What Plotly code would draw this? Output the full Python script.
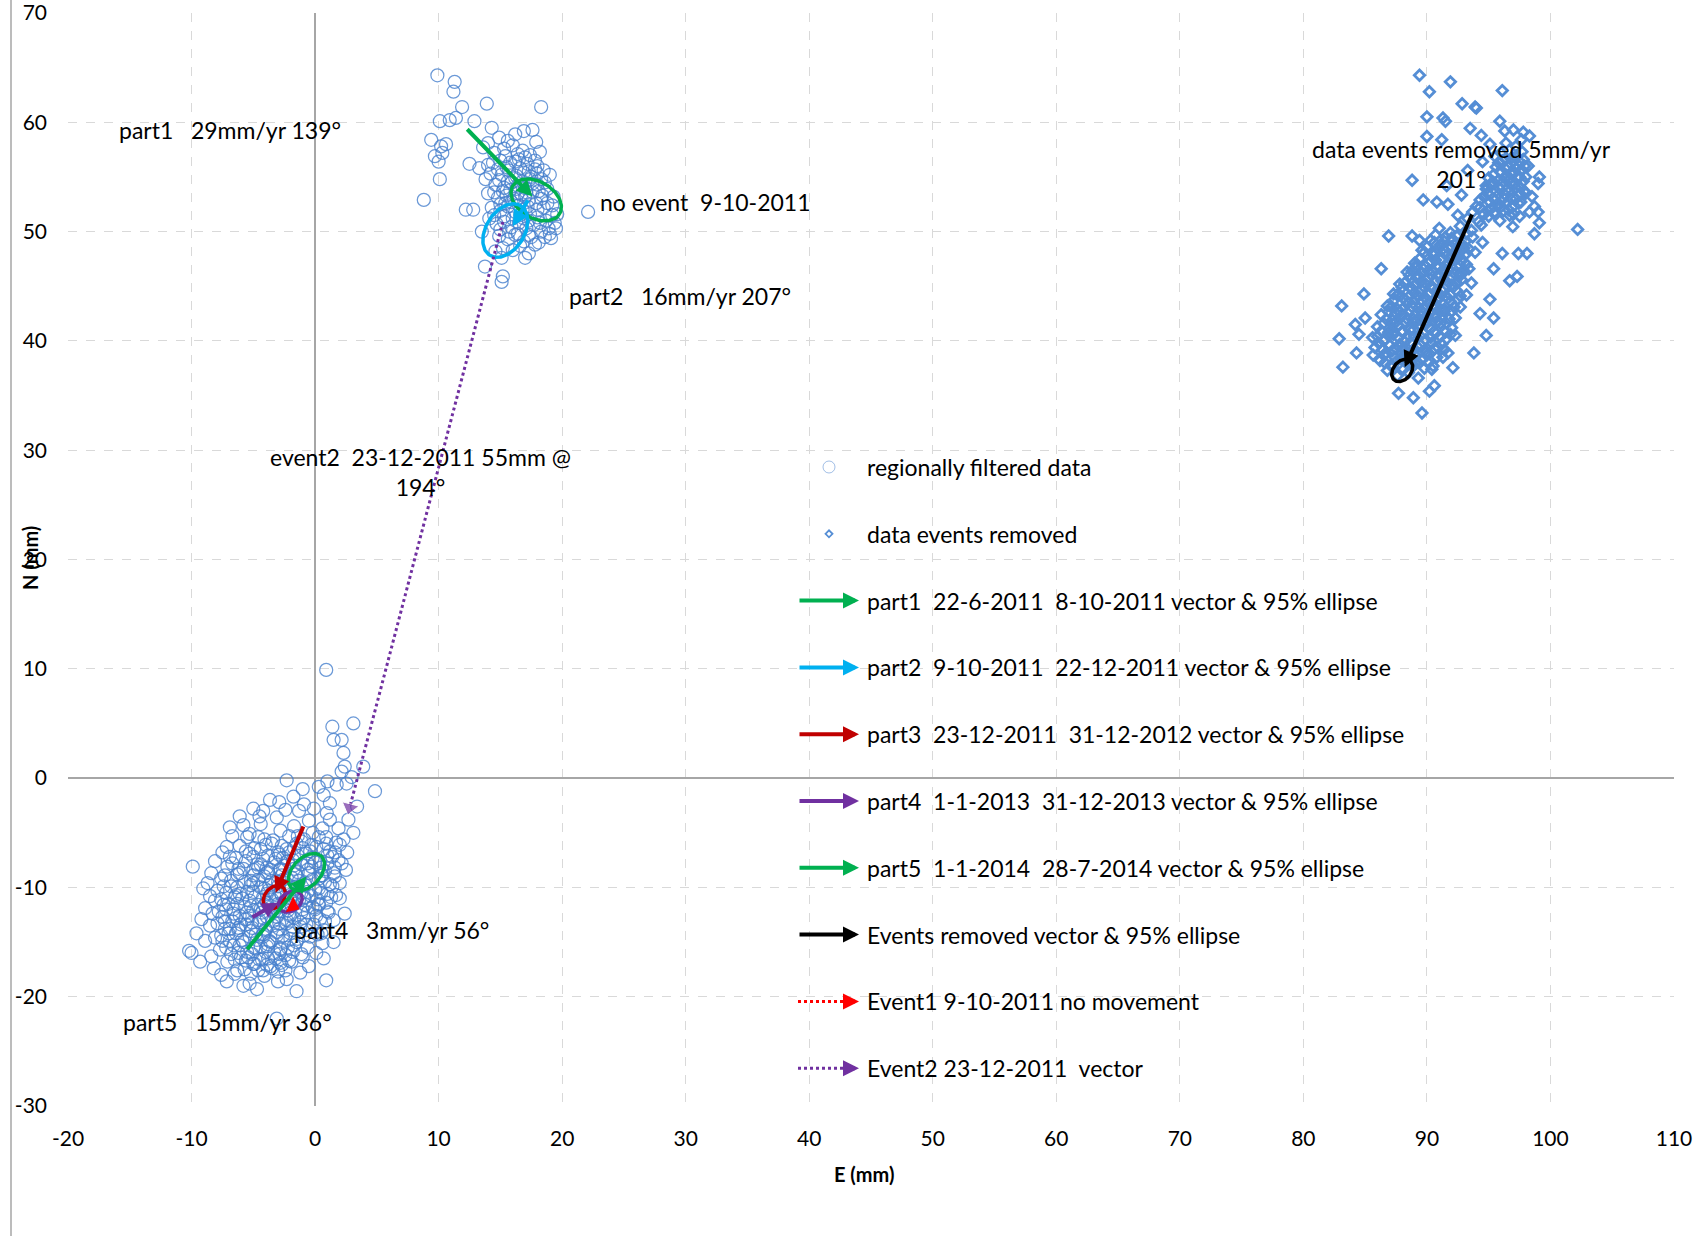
import numpy as np
import plotly.graph_objects as go

# ---------------- data ----------------
filtered_top = [
    (9.9,64.3),(11.3,63.7),(11.2,62.8),(13.9,61.7),(18.3,61.4),(11.9,61.4),(10.1,60.1),(10.9,60.2),
    (11.4,60.4),(12.9,60.1),(9.4,58.4),(10.2,57.8),(9.7,56.9),(10.0,56.4),(10.1,54.8),(8.8,52.9),
    (12.2,52.0),(12.8,52.0),(22.1,51.8),(13.75,46.8),(15.2,45.9),(15.1,45.4),(17.3,48.0),(19.1,49.4),
    (12.5,56.2),(13.3,55.8),(14.0,56.1),(14.3,59.5),(14.9,58.6),(16.2,58.9),(16.9,59.2),(17.6,59.3),
    (17.9,58.2),(10.6,58.0),(10.3,57.2),
    (14.5,57.2),(15.3,57.6),(16.0,57.9),(16.8,57.4),(17.4,57.0),(18.2,57.3),(15.0,56.5),(15.8,56.3),
    (16.5,56.6),(17.2,56.2),(18.0,56.0),(14.2,55.3),(15.1,55.2),(15.7,55.6),(16.3,55.1),(16.9,55.4),
    (17.5,55.0),(18.3,54.8),(19.0,55.2),(14.6,54.3),(15.3,54.0),(15.9,54.5),(16.4,54.2),(17.0,54.0),
    (17.6,54.4),(18.1,53.7),(18.8,53.9),(19.3,53.2),(14.0,53.5),(14.8,53.1),(15.5,53.3),(16.1,53.0),
    (16.7,53.4),(17.3,52.9),(17.9,52.6),(18.5,52.2),(19.2,52.4),(14.3,52.2),(15.0,51.9),(15.6,52.3),
    (16.2,51.8),(16.8,52.0),(17.4,51.6),(18.0,51.3),(18.7,51.0),(19.4,50.8),(14.1,51.2),(14.7,50.7),
    (15.3,50.9),(15.9,50.4),(16.5,50.8),(17.1,50.3),(17.7,50.6),(18.3,50.0),(19.0,49.8),(19.5,50.3),
    (14.9,49.6),(15.6,49.3),(16.2,49.7),(16.9,49.1),(17.5,49.5),(18.1,49.0),(15.2,48.5),(16.0,48.3),
    (16.6,48.7),(17.8,48.8),(13.8,54.8),(14.4,56.3),(15.6,58.3),(16.4,57.1),(17.8,55.7),(18.5,55.6),
    (13.6,57.7),(14.0,58.1),(17.1,53.6),(16.3,53.9),(15.4,52.6),(16.9,51.2),(18.4,53.3),(19.6,51.6),
    (15.1,47.6),(14.6,48.2),(17.0,47.6),(13.5,50.0),
    (15.4,56.9),(16.2,56.4),(17.0,56.8),(17.8,56.5),(14.8,55.7),(15.5,55.9),(16.6,55.8),(17.3,55.5),
    (18.0,55.3),(14.9,54.7),(15.6,54.6),(16.2,54.9),(16.8,54.6),(17.4,54.8),(18.0,54.3),(18.6,54.5),
    (14.5,53.6),(15.2,53.7),(15.8,53.8),(16.4,53.5),(17.0,53.2),(17.6,53.6),(18.3,53.0),(15.0,52.5),
    (15.9,52.7),(16.5,52.4),(17.2,52.3),(18.0,52.0),(18.8,52.6),(14.5,51.5),(15.3,51.4),(16.0,51.2),
    (16.6,51.5),(17.3,51.0),(18.2,50.8),(15.0,50.2),(15.7,50.0),(16.4,49.8),(17.3,49.7),(18.6,49.5),
    (19.2,51.5),(18.9,50.3),
]

filtered_bottom = [
    (0.9,9.9),(1.4,4.7),(3.1,5.0),(1.5,3.5),(2.15,3.5),(2.3,2.3),(2.4,1.05),(2.15,0.6),(1.75,-0.6),
    (2.55,-0.5),(2.95,0.1),(3.9,1.05),(4.85,-1.2),(-2.3,-0.2),(2.7,-3.8),(3.1,-5.0),(3.4,-2.6),
    (-9.9,-8.1),(-9.05,-10.1),(-8.5,-10.8),(-9.6,-14.2),(-10.0,-16.0),(-7.15,-18.6),(-5.3,-18.8),
    (-3.0,-18.6),(-1.5,-19.5),(0.9,-18.5),(0.7,-16.5),(-3.1,-22.0),(2.0,-11.0),(2.4,-12.4),(1.5,-13.0),
    (0.7,-13.9),(2.15,-7.8),(1.6,-9.0),(-6.1,-3.5),(-4.5,-3.5),(-5.5,-5.4),(-7.15,-6.3),(-6.9,-7.2),
    (-5.0,-2.8),(-3.65,-2.0),(-1.75,-1.7),(0.7,-1.55),(1.2,-2.3),(0.95,-3.2),(-10.2,-15.8),(-9.3,-16.8),
    (-8.2,-17.4),(-6.5,-17.9),(-4.2,-17.6),(-0.5,-17.2),(1.5,-15.0),
    (-4.4,-4.2),(-3.1,-3.6),(-1.7,-4.4),(-0.5,-3.9),(0.6,-4.6),(-2.4,-2.9),(-5.3,-5.1),(-4.1,-5.6),
    (-2.8,-4.8),(-1.4,-5.3),(-0.2,-5.0),(0.9,-5.4),(1.7,-5.9),(-6.1,-6.2),(-4.9,-6.4),(-3.5,-6.0),
    (-2.3,-6.5),(-1.1,-5.8),(0.1,-6.3),(1.2,-6.7),(2.0,-6.1),(-6.4,-7.3),(-5.3,-6.9),(-4.2,-7.4),
    (-2.9,-7.0),(-1.8,-7.5),(-0.7,-6.9),(0.4,-7.6),(1.4,-7.2),(-7.1,-8.1),(-5.8,-8.3),(-4.7,-7.9),
    (-3.6,-8.4),(-2.5,-8.0),(-1.4,-8.6),(-0.3,-8.1),(0.8,-8.5),(1.6,-8.2),(-7.6,-9.2),(-6.3,-8.8),
    (-5.2,-9.4),(-4.1,-9.0),(-3.0,-9.5),(-1.9,-9.1),(-0.8,-9.6),(0.3,-9.2),(1.2,-9.7),(-7.9,-10.3),
    (-6.8,-9.9),(-5.5,-10.4),(-4.4,-10.0),(-3.3,-10.6),(-2.2,-10.1),(-1.1,-10.5),(0.0,-10.2),(1.0,-10.6),
    (-8.1,-11.2),(-7.0,-11.5),(-5.9,-11.0),(-4.6,-11.6),(-3.5,-11.1),(-2.4,-11.7),(-1.3,-11.2),(-0.2,-11.8),
    (0.9,-11.4),(-8.3,-12.4),(-7.2,-12.0),(-6.1,-12.6),(-5.0,-12.1),(-3.9,-12.7),(-2.8,-12.2),(-1.7,-12.8),
    (-0.6,-12.3),(0.4,-12.9),(-8.5,-13.5),(-7.3,-13.1),(-6.2,-13.7),(-5.1,-13.2),(-4.0,-13.8),(-2.9,-13.3),
    (-1.8,-13.9),(-0.7,-13.4),(-8.1,-14.6),(-7.0,-14.2),(-5.9,-14.8),(-4.8,-14.3),(-3.7,-14.9),(-2.6,-14.4),
    (-1.5,-15.0),(-0.4,-14.5),(-7.7,-15.7),(-6.6,-15.3),(-5.5,-15.9),(-4.4,-15.4),(-3.3,-16.0),(-2.2,-15.5),
    (-1.1,-16.1),(-7.1,-16.8),(-6.0,-16.4),(-4.9,-17.0),(-3.8,-16.5),(-2.7,-17.1),(-6.3,-17.6),(-5.2,-17.9),
    (-4.1,-18.1),(-3.0,-17.7),
    (-3.7,-9.8),(-2.6,-9.3),(-1.5,-9.9),(-4.9,-10.9),(-3.9,-11.4),(-2.0,-11.0),(-0.9,-10.9),(-4.3,-12.3),
    (-3.2,-11.9),(-2.1,-12.4),(-1.0,-12.0),(-5.6,-12.9),(-4.5,-13.0),(-3.4,-13.5),(-2.3,-13.0),(-1.2,-13.6),
    (-5.2,-14.0),(-4.2,-14.5),(-3.1,-14.1),(-2.0,-14.7),(-4.8,-15.6),(-3.8,-15.2),(-2.8,-15.7),(-4.5,-16.6),
    (-3.6,-17.2),(-5.7,-11.8),(-6.6,-12.4),(-6.4,-10.7),(-5.0,-9.6),(-3.9,-8.7),(-2.8,-8.3),(-1.7,-8.0),
    (-0.6,-7.8),(-3.2,-7.4),(-2.1,-6.8),(-1.0,-6.4),(-4.6,-8.2),(0.5,-8.9),(-0.3,-10.8),(0.3,-11.6),
    (-1.6,-11.5),(-2.7,-10.7),(-3.8,-10.3),(-6.0,-13.4),(-6.9,-13.8),(-7.5,-14.9),(-6.8,-16.1),(-5.6,-16.7),
    (-2.4,-16.2),(-1.9,-16.8),
    (-8.7,-9.6),(-8.9,-11.9),(-9.2,-12.9),(-8.9,-14.9),(-8.4,-16.3),(-7.6,-18.0),(-5.8,-19.0),(-4.7,-19.3),
    (-2.3,-18.4),(-1.2,-17.8),(0.1,-16.0),(0.6,-15.1),(0.5,-14.2),(1.1,-12.3),(1.7,-10.7),(2.0,-9.6),
    (2.5,-8.4),(2.6,-6.8),(2.3,-5.6),(1.9,-4.6),(1.2,-3.8),(-0.1,-2.8),(-1.3,-3.0),(-2.9,-2.2),(-4.2,-3.0),
    (-5.8,-4.3),(-6.7,-5.3),(-7.5,-6.8),(-8.1,-7.6),(-8.4,-8.7),(-6.9,-4.5),(-0.9,-2.4),(0.3,-0.8),
    (-1.0,-1.0),(1.0,-0.3),
    (-4.6,-5.4),(-3.4,-5.7),(-2.1,-5.3),(-0.9,-5.6),(0.3,-5.4),
    (-5.6,-6.7),(-4.4,-6.5),(-3.0,-6.8),(-1.7,-6.4),(-0.4,-6.7),(0.7,-6.5),(1.6,-6.8),
    (-6.7,-7.8),(-5.6,-7.6),(-4.4,-7.9),(-3.3,-7.7),(-2.2,-7.6),(-1.1,-7.9),(0.0,-7.7),(1.0,-7.8),(1.9,-7.5),
    (-7.3,-8.9),(-6.1,-8.7),(-5.0,-8.9),(-3.8,-8.6),(-2.7,-8.9),(-1.6,-8.8),(-0.5,-8.7),(0.6,-8.9),(1.5,-8.7),
    (-7.4,-9.9),(-6.3,-10.0),(-5.2,-9.8),(-4.1,-10.1),(-3.0,-9.9),(-1.9,-10.0),(-0.8,-9.8),(0.3,-10.1),(1.4,-9.9),
    (-7.6,-11.1),(-6.5,-10.9),(-5.3,-11.2),(-4.2,-10.9),(-3.1,-11.0),(-2.0,-11.2),(-0.9,-11.0),(0.2,-11.1),(1.3,-10.9),
    (-7.8,-12.2),(-6.6,-12.0),(-5.5,-12.3),(-4.4,-12.0),(-3.3,-12.2),(-2.2,-12.1),(-1.1,-12.3),(0.0,-12.0),(1.0,-12.2),
    (-7.9,-13.3),(-6.7,-13.1),(-5.6,-13.4),(-4.5,-13.2),(-3.4,-13.1),(-2.3,-13.3),(-1.2,-13.2),(-0.1,-13.4),(0.8,-13.1),
    (-7.6,-14.4),(-6.4,-14.2),(-5.3,-14.5),(-4.2,-14.3),(-3.1,-14.4),(-2.0,-14.2),(-0.9,-14.4),(0.2,-14.3),
    (-7.2,-15.5),(-6.1,-15.3),(-5.0,-15.5),(-3.9,-15.4),(-2.8,-15.6),(-1.7,-15.3),(-0.6,-15.5),
    (-6.5,-16.6),(-5.4,-16.4),(-4.3,-16.6),(-3.2,-16.5),(-2.1,-16.7),(-1.0,-16.4),
    (-5.7,-17.5),(-4.6,-17.6),(-3.5,-17.4),(-2.4,-17.6),
    (-4.0,-6.1),(-2.7,-6.2),(-1.5,-6.0),(-0.3,-6.1),(0.9,-6.0),
    (-5.0,-7.2),(-3.8,-7.1),(-2.6,-7.3),(-1.4,-7.1),(-0.2,-7.3),(1.0,-7.1),
    (-6.2,-8.3),(-5.0,-8.4),(-3.9,-8.2),(-2.8,-8.4),(-1.7,-8.3),(-0.6,-8.4),(0.5,-8.2),
    (-6.8,-9.4),(-5.7,-9.5),(-4.6,-9.3),(-3.5,-9.4),(-2.4,-9.6),(-1.3,-9.4),(-0.2,-9.3),(0.8,-9.5),
    (-7.2,-10.5),(-6.1,-10.6),(-5.0,-10.4),(-3.9,-10.6),(-2.8,-10.5),(-1.7,-10.6),(-0.6,-10.4),(0.5,-10.5),
    (-7.4,-11.6),(-6.3,-11.5),(-5.2,-11.7),(-4.1,-11.6),(-3.0,-11.5),(-1.9,-11.7),(-0.8,-11.6),(0.3,-11.5),
    (-7.5,-12.7),(-6.4,-12.8),(-5.3,-12.6),(-4.2,-12.8),(-3.1,-12.7),(-2.0,-12.6),(-0.9,-12.8),(0.1,-12.6),
    (-7.3,-13.8),(-6.2,-13.9),(-5.1,-13.7),(-4.0,-13.9),(-2.9,-13.8),(-1.8,-13.6),(-0.7,-13.9),
    (-6.9,-14.9),(-5.8,-15.0),(-4.7,-14.8),(-3.6,-15.0),(-2.5,-14.9),(-1.4,-14.7),
    (-6.2,-16.0),(-5.1,-16.1),(-4.0,-15.9),(-2.9,-16.1),(-1.8,-15.9),
    (-5.0,-17.0),(-3.9,-17.1),(-2.8,-16.9),
]

removed_pts = [
    (86.8,37.3),(87.6,36.8),(88.5,37.1),(89.3,36.6),(90.4,37.4),
    (86.2,38.2),(87.1,37.8),(87.9,38.4),(88.8,37.9),(89.6,38.3),(90.5,37.7),(91.3,38.5),
    (85.8,39.4),(86.7,38.9),(87.5,39.3),(88.3,38.8),(89.2,39.5),(90.0,39.0),(90.9,39.4),(91.7,38.9),
    (85.6,40.3),(86.5,40.0),(87.3,40.6),(88.2,39.9),(89.0,40.4),(89.9,40.1),(90.7,40.7),(91.6,40.2),(92.3,40.5),
    (86.0,41.3),(86.9,40.8),(87.7,41.4),(88.6,41.0),(89.4,41.5),(90.3,41.1),(91.1,41.6),(92.0,41.2),
    (86.3,42.4),(87.2,41.9),(88.0,42.3),(88.9,42.0),(89.7,42.6),(90.6,42.2),(91.4,42.7),(92.3,42.1),
    (86.8,43.2),(87.6,42.9),(88.5,43.5),(89.3,43.0),(90.2,43.4),(91.0,42.9),(91.9,43.6),(92.7,43.1),
    (87.3,44.3),(88.1,43.9),(89.0,44.4),(89.8,44.0),(90.7,44.5),(91.5,44.1),(92.4,44.6),(93.2,44.2),
    (87.8,45.2),(88.6,44.9),(89.5,45.4),(90.3,45.0),(91.2,45.5),(92.0,45.1),(92.8,45.6),
    (88.4,46.3),(89.2,45.8),(90.1,46.4),(90.9,46.0),(91.8,46.5),(92.6,46.1),(93.4,46.6),
    (89.0,47.1),(89.9,46.8),(90.7,47.4),(91.5,46.9),(92.4,47.5),(93.2,47.0),
    (89.6,48.3),(90.5,47.9),(91.3,48.4),(92.2,48.0),(93.0,48.5),(93.9,48.1),
    (90.3,49.2),(91.1,48.8),(92.0,49.4),(92.8,48.9),(93.7,49.5),(94.5,49.0),
    (91.0,50.3),(91.9,49.9),(92.7,50.5),(93.6,50.1),(94.4,50.6),
    (93.3,51.2),(94.2,50.9),(95.0,51.4),(95.9,51.0),(96.7,51.5),
    (94.0,52.3),(94.9,51.9),(95.7,52.5),(96.6,52.0),(97.4,52.6),
    (94.6,53.2),(95.5,52.9),(96.3,53.4),(97.2,53.0),(98.0,53.5),
    (95.1,54.3),(95.9,53.9),(96.8,54.4),(97.6,54.0),
    (95.4,55.2),(96.3,54.9),(97.1,55.4),(98.0,55.0),
    (95.8,56.3),(96.6,55.9),(97.5,56.4),(98.2,56.0),
    (96.0,57.2),(96.9,56.8),(97.7,57.3),(96.4,58.1),(97.2,57.8),
    (87.0,39.6),(88.0,40.9),(88.9,41.7),(89.6,43.7),(90.5,44.8),(91.4,46.2),(88.4,38.5),(89.9,41.8),
    (90.9,43.9),(87.5,42.5),(89.1,46.7),(92.0,48.6),
    (87.2,37.6),(88.1,37.4),(88.9,37.7),(89.8,37.5),
    (86.5,38.7),(87.4,38.5),(88.2,38.8),(89.1,38.6),(90.0,38.7),(90.8,38.5),
    (86.1,39.8),(87.0,39.6),(87.8,39.7),(88.7,39.9),(89.5,39.6),(90.4,39.8),(91.2,39.7),
    (86.3,40.9),(87.2,40.7),(88.0,40.8),(88.9,41.0),(89.7,40.7),(90.6,40.9),(91.5,40.8),
    (86.7,42.0),(87.5,41.8),(88.4,42.0),(89.2,41.9),(90.1,42.1),(90.9,41.8),(91.8,42.0),
    (87.1,43.1),(88.0,42.9),(88.8,43.1),(89.7,43.0),(90.5,43.2),(91.4,42.9),(92.2,43.1),
    (87.6,44.2),(88.5,44.0),(89.3,44.1),(90.2,44.3),(91.0,44.0),(91.9,44.2),(92.7,44.1),
    (88.2,45.3),(89.0,45.1),(89.9,45.2),(90.7,45.4),(91.6,45.1),(92.4,45.3),
    (88.8,46.4),(89.6,46.2),(90.5,46.3),(91.3,46.5),(92.2,46.2),(93.0,46.4),
    (89.4,47.5),(90.3,47.3),(91.1,47.4),(92.0,47.6),(92.8,47.3),
    (90.0,48.6),(90.9,48.4),(91.7,48.5),(92.6,48.7),(93.4,48.4),
    (90.7,49.7),(91.5,49.5),(92.4,49.6),(93.2,49.8),
    (93.7,51.8),(94.6,51.6),(95.4,51.7),(96.2,51.9),(97.0,51.6),
    (94.3,52.9),(95.1,52.7),(96.0,52.8),(96.8,53.0),(97.6,52.7),
    (94.8,53.9),(95.6,53.7),(96.4,53.8),(97.2,54.0),(97.9,53.7),
    (95.0,54.9),(95.8,54.7),(96.7,54.8),(97.5,55.0),
    (95.6,55.9),(96.4,55.7),(97.2,55.8),(97.9,56.0),
    (95.5,56.9),(96.4,56.7),(97.2,56.8),
    (86.6,38.0),(87.5,38.1),(88.4,37.9),(89.2,38.1),(90.1,38.0),
    (86.4,39.2),(87.2,39.1),(88.1,39.3),(88.9,39.2),(89.8,39.1),(90.6,39.3),(91.4,39.2),
    (86.0,40.4),(86.9,40.5),(87.7,40.3),(88.6,40.4),(89.4,40.5),(90.3,40.3),(91.1,40.4),(91.9,40.6),
    (86.5,41.6),(87.3,41.5),(88.2,41.7),(89.0,41.6),(89.9,41.5),(90.7,41.7),(91.6,41.6),
    (86.9,42.7),(87.8,42.6),(88.6,42.8),(89.5,42.7),(90.3,42.6),(91.2,42.8),(92.0,42.7),
    (87.4,43.8),(88.3,43.7),(89.1,43.9),(90.0,43.8),(90.8,43.7),(91.7,43.9),(92.5,43.8),
    (88.0,44.9),(88.8,44.8),(89.7,45.0),(90.5,44.9),(91.4,44.8),(92.2,45.0),
    (88.6,46.0),(89.4,45.9),(90.3,46.1),(91.1,46.0),(92.0,45.9),(92.8,46.1),
    (89.2,47.0),(90.1,47.1),(90.9,46.9),(91.8,47.1),(92.6,47.0),
    (89.8,48.1),(90.7,48.0),(91.5,48.2),(92.4,48.1),(93.2,48.0),
    (90.6,49.0),(91.4,49.1),(92.3,48.9),(93.1,49.1),
    (94.3,52.2),(95.2,52.1),(96.0,52.3),(96.9,52.2),
    (94.9,53.5),(95.8,53.4),(96.6,53.6),(97.5,53.5),
    (95.4,54.5),(96.2,54.6),(97.1,54.4),(97.8,54.6),
    (95.9,55.5),(96.8,55.4),(97.6,55.6),
    (96.1,56.5),(97.0,56.4),(97.8,56.6),
    (89.4,64.3),(91.9,63.7),(90.2,62.8),(96.1,62.9),(92.85,61.7),(93.9,61.4),(94.0,61.3),(90.0,60.5),
    (91.3,60.4),(91.5,60.1),(93.5,59.45),(95.9,60.1),(96.3,59.2),(97.0,59.3),(97.8,59.1),(98.3,58.75),
    (97.65,58.4),(90.0,58.7),(91.2,58.4),(94.4,58.8),(95.1,58.0),(88.8,54.7),(89.7,52.9),(90.8,52.7),
    (91.7,52.5),(92.8,53.35),(99.1,55.0),(99.0,54.4),(98.7,52.3),(99.0,51.8),(99.1,50.8),(98.7,49.8),
    (98.1,48.0),(97.4,48.0),(102.2,50.2),(86.9,49.6),(88.8,49.6),(89.4,49.2),(86.3,46.6),(84.9,44.3),
    (83.1,43.2),(82.9,40.2),(83.2,37.6),(84.3,38.9),(85.65,38.7),(87.7,35.2),(90.2,35.4),(89.6,33.4),
    (92.1,37.55),(94.8,40.5),(95.4,42.1),(96.7,45.5),(97.3,45.9),(96.1,48.0),(95.4,46.6),(95.1,43.8),
    (96.45,52.6),(98.5,53.2),(98.3,51.8),(97.5,51.4),(96.95,50.45),(84.5,40.6),(85.0,42.1),(84.2,41.5),
    (90.6,35.9),(88.9,34.8),(93.8,38.9),(94.3,42.5),(93.6,45.3),(92.5,51.5),(91.6,54.2),(93.3,55.6),
    (94.5,56.4),(94.8,54.2),
]

# vectors (start E, start N, end E, end N)
vec_names   = ["part1", "part2", "part3", "part4", "part5", "removed"]
vec_colors  = ["#00B050", "#00B0F0", "#C00000", "#7030A0", "#00B050", "#000000"]
vec_start_e = [12.2, 17.3, -0.9, -5.2, -5.6, 93.7]
vec_start_n = [59.5, 53.0, -4.3, -12.8, -15.8, 51.7]
vec_end_e   = [17.6, 16.0, -3.2, -3.0, -0.7, 88.2]
vec_end_n   = [53.2, 50.5, -10.5, -11.4, -9.0, 37.6]

# 95% ellipses: centre, semi-axes, tilt (deg)
ell_center_e = [17.9, 15.4, -3.3, -2.0, -0.7, 88.0]
ell_center_n = [52.9, 50.1, -10.9, -11.3, -8.6, 37.3]
ell_a        = [2.3, 2.6, 1.15, 1.1, 1.9, 1.1]
ell_b        = [1.6, 1.6, 0.8, 0.8, 1.2, 0.75]
ell_tilt     = [-40, 65, 60, 45, 55, 60]

# event vectors (dotted)
event2_e = [15.2, 2.8]
event2_n = [50.9, -2.7]
event1_e = [-1.8]
event1_n = [-11.7]

# text labels
label_text = ["part1\u00a0\u00a0 29mm/yr 139°", "no event\u00a0 9-10-2011", "part2\u00a0\u00a0 16mm/yr 207°",
              "event2\u00a0 23-12-2011 55mm @<br>194°", "data events removed 5mm/yr<br>201°",
              "part3\u00a0\u00a0 7mm/yr 199°", "part4\u00a0\u00a0 3mm/yr 56°", "part5\u00a0\u00a0 15mm/yr 36°"]
label_e = [-16.05, 22.9, 20.4, 8.5, 92.8, -22.2, -1.9, -15.7]
label_n = [59.3, 52.7, 44.1, 28.0, 56.2, -2.4, -13.9, -22.3]
label_anchor = ["left", "left", "left", "center", "center", "left", "left", "left"]

legend_text = ["regionally filtered data", "data events removed",
               "part1\u00a0 22-6-2011\u00a0 8-10-2011 vector &amp; 95% ellipse",
               "part2\u00a0 9-10-2011\u00a0 22-12-2011 vector &amp; 95% ellipse",
               "part3\u00a0 23-12-2011\u00a0 31-12-2012 vector &amp; 95% ellipse",
               "part4\u00a0 1-1-2013\u00a0 31-12-2013 vector &amp; 95% ellipse",
               "part5\u00a0 1-1-2014\u00a0 28-7-2014 vector &amp; 95% ellipse",
               "Events removed vector &amp; 95% ellipse",
               "Event1 9-10-2011 no movement",
               "Event2 23-12-2011\u00a0 vector"]
legend_kind = ["circle", "diamond", "#00B050", "#00B0F0", "#C00000", "#7030A0", "#00B050", "#000000",
               "dot:#FF0000", "dot:#7030A0"]

x_ticks = list(range(-20, 111, 10))
y_ticks = list(range(-30, 71, 10))
x_ticktext = [str(v) for v in x_ticks]
y_ticktext = [str(v) for v in y_ticks]

FONT = "Lato, 'Open Sans', sans-serif"
TXT = 23
CIRC_COL = "rgba(70,128,205,0.8)"
DIAM_COL = "#558ED5"

FIG_W, FIG_H = 1700, 1236
PL, PT, PW, PH = 68, 13, 1606, 1093     # plot area in pixels

fig = go.Figure()

fe = [p[0] for p in filtered_top + filtered_bottom]
fn = [p[1] for p in filtered_top + filtered_bottom]
fig.add_trace(go.Scatter(x=fe, y=fn, mode="markers", name="regionally filtered data",
                         marker=dict(symbol="circle-open", size=13, color=CIRC_COL, line=dict(width=1.25))))
fig.add_trace(go.Scatter(x=[p[0] for p in removed_pts], y=[p[1] for p in removed_pts], mode="markers",
                         name="data events removed",
                         marker=dict(symbol="diamond-open", size=8, color=DIAM_COL, line=dict(width=2.8))))

t = np.linspace(0, 2 * np.pi, 120)
for i in range(len(vec_names)):
    th = np.radians(ell_tilt[i])
    ex = ell_center_e[i] + ell_a[i] * np.cos(t) * np.cos(th) - ell_b[i] * np.sin(t) * np.sin(th)
    ey = ell_center_n[i] + ell_a[i] * np.cos(t) * np.sin(th) + ell_b[i] * np.sin(t) * np.cos(th)
    fig.add_trace(go.Scatter(x=ex, y=ey, mode="lines", line=dict(color=vec_colors[i], width=3.5),
                             hoverinfo="skip"))

# event2 dotted vector with arrow head
fig.add_trace(go.Scatter(x=event2_e, y=event2_n, mode="lines+markers",
                         line=dict(color="#7030A0", width=3, dash="dot"),
                         marker=dict(symbol="triangle-up", size=[0, 15], color="#7030A0", angleref="previous")))
# event1: no movement -> only the arrow head
fig.add_trace(go.Scatter(x=event1_e, y=event1_n, mode="markers",
                         marker=dict(symbol="triangle-right", size=15, color="#FF0000", angle=25)))

annotations = []
for i in range(len(vec_names)):
    annotations.append(dict(x=vec_end_e[i], y=vec_end_n[i], ax=vec_start_e[i], ay=vec_start_n[i],
                            xref="x", yref="y", axref="x", ayref="y", text="", showarrow=True,
                            arrowhead=2, arrowsize=0.8, arrowwidth=4, arrowcolor=vec_colors[i]))

for txt, xe, yn, anc in zip(label_text, label_e, label_n, label_anchor):
    annotations.append(dict(x=xe, y=yn, xref="x", yref="y", text=txt, showarrow=False,
                            xanchor=anc, yanchor="middle", align="center",
                            font=dict(family=FONT, size=TXT, color="black")))

# custom legend (paper coordinates, from pixels)
def px(X): return (X - PL) / PW
def py(Y): return (PT + PH - Y) / PH
shapes = []
row0, step = 467, 66.8
for k, (txt, kind) in enumerate(zip(legend_text, legend_kind)):
    Y = row0 + k * step
    annotations.append(dict(x=px(865), y=py(Y), xref="paper", yref="paper", text=txt, showarrow=False,
                            xanchor="left", yanchor="middle",
                            font=dict(family=FONT, size=TXT, color="black")))
    if kind == "circle":
        shapes.append(dict(type="circle", xref="paper", yref="paper", x0=px(823), x1=px(835),
                           y0=py(Y + 6), y1=py(Y - 6), line=dict(color="rgba(70,128,205,0.5)", width=1)))
    elif kind == "diamond":
        shapes.append(dict(type="path", xref="paper", yref="paper",
                           path=f"M{px(825.5)},{py(Y)} L{px(829)},{py(Y-3.5)} L{px(832.5)},{py(Y)} L{px(829)},{py(Y+3.5)} Z",
                           line=dict(color=DIAM_COL, width=1.8)))
    elif kind.startswith("dot:"):
        col = kind[4:]
        shapes.append(dict(type="line", xref="paper", yref="paper", x0=px(798), x1=px(846),
                           y0=py(Y), y1=py(Y), line=dict(color=col, width=3, dash="dot")))
        annotations.append(dict(x=px(859), y=py(Y), xref="paper", yref="paper", ax=-17, ay=0,
                                text="", showarrow=True, arrowhead=2, arrowsize=0.8, arrowwidth=4,
                                arrowcolor=col))
    else:
        annotations.append(dict(x=px(859), y=py(Y), xref="paper", yref="paper", ax=-61, ay=0,
                                text="", showarrow=True, arrowhead=2, arrowsize=0.8, arrowwidth=4,
                                arrowcolor=kind))

# axis titles
annotations.append(dict(x=px(30), y=py(558), xref="paper", yref="paper", text="<b>N (mm)</b>",
                        textangle=-90, showarrow=False, xanchor="center", yanchor="middle",
                        font=dict(family=FONT, size=20, color="black")))
annotations.append(dict(x=px(864), y=py(1174), xref="paper", yref="paper", text="<b>E (mm)</b>",
                        showarrow=False, xanchor="center", yanchor="middle",
                        font=dict(family=FONT, size=20, color="black")))

# outer chart border line at left
shapes.append(dict(type="line", xref="paper", yref="paper", x0=px(11), x1=px(11), y0=py(1236), y1=py(0),
                   line=dict(color="#A6A6A6", width=1.5)))

fig.update_layout(
    width=FIG_W, height=FIG_H, showlegend=False,
    margin=dict(l=PL, r=FIG_W - PL - PW, t=PT, b=FIG_H - PT - PH, autoexpand=False),
    paper_bgcolor="white", plot_bgcolor="white",
    annotations=annotations, shapes=shapes,
    font=dict(family=FONT, size=21, color="black"),
    xaxis=dict(range=[-20, 110], tickvals=x_ticks, ticktext=x_ticktext, showgrid=True, gridcolor="#D9D9D9",
               griddash="dash", gridwidth=1, zeroline=True, zerolinecolor="#A6A6A6", zerolinewidth=1.5,
               showline=False, ticks="", ticklabelstandoff=18, tickfont=dict(size=21), automargin=False,
               ticklabeloverflow="allow"),
    yaxis=dict(range=[-30, 70], tickvals=y_ticks, ticktext=y_ticktext, showgrid=True, gridcolor="#D9D9D9",
               griddash="dash", gridwidth=1, zeroline=True, zerolinecolor="#A6A6A6", zerolinewidth=1.5,
               showline=False, ticks="", ticklabelstandoff=20, tickfont=dict(size=21), automargin=False,
               ticklabeloverflow="allow"),
)

# remove the default 8px page margin so the figure fills the window exactly
fig.write_html("out.html", config={"displayModeBar": False},
               post_script="document.body.style.margin='0';document.body.style.overflow='hidden';")
